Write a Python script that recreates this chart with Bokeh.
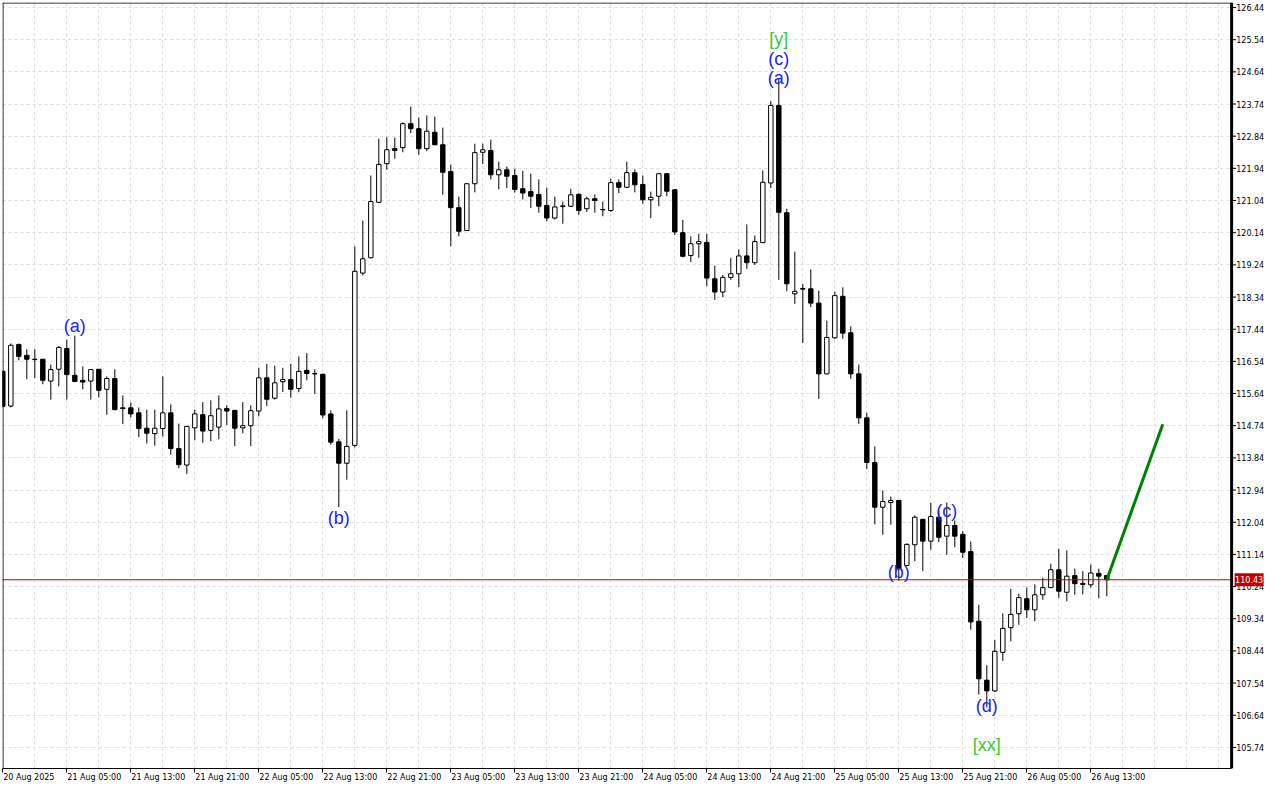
from bokeh.plotting import figure
from bokeh.models import (ColumnDataSource, Range1d, FixedTicker, LinearAxis, Grid)
from bokeh.core.properties import value
from bokeh.embed import file_html
from bokeh.resources import INLINE

# ---------------- data (hourly bars, 20 Aug 2025 21:00 -> 26 Aug 2025 15:00) ----------------
opens = [116.26, 115.29, 117.01, 116.71, 116.60, 116.60, 115.99, 116.32, 116.90, 116.15,
         116.01, 115.99, 116.32, 115.76, 116.06, 115.24, 115.24, 115.10, 114.67, 114.52,
         114.66, 115.10, 114.10, 113.64, 114.68, 115.05, 114.61, 114.70, 115.22, 115.17,
         114.68, 114.74, 115.15, 116.08, 115.51, 115.97, 116.03, 115.78, 116.29, 116.20,
         116.18, 115.07, 114.29, 113.69, 114.19, 119.01, 119.44, 120.99, 122.07, 122.49,
         122.52, 123.19, 123.05, 122.49, 122.95, 122.60, 121.85, 120.84, 120.20, 121.51,
         122.39, 122.44, 121.76, 121.90, 121.74, 121.37, 121.29, 121.21, 120.90, 120.55,
         120.87, 120.88, 121.21, 120.81, 121.09, 120.79, 120.76, 121.54, 121.41, 121.82,
         121.49, 121.06, 121.16, 121.79, 121.34, 120.14, 119.50, 119.83, 119.87, 118.85,
         118.48, 118.89, 118.99, 119.49, 119.30, 119.86, 121.53, 123.70, 120.70, 118.43,
         118.58, 118.57, 118.17, 116.19, 117.20, 118.36, 117.34, 116.19, 114.96, 113.71,
         112.46, 112.59, 112.65, 110.83, 111.41, 112.12, 111.51, 112.18, 111.65, 111.95,
         111.70, 111.22, 109.27, 107.62, 107.32, 108.40, 109.09, 109.48, 109.90, 109.59,
         110.01, 110.21, 110.71, 110.08, 110.55, 110.33, 110.29, 110.61, 110.55]
highs = [116.29, 117.04, 117.04, 116.88, 116.88, 116.60, 116.45, 116.97, 117.15, 117.26,
         116.40, 116.32, 116.32, 116.12, 116.32, 115.59, 115.39, 115.25, 115.19, 115.19,
         116.12, 115.34, 114.80, 114.74, 115.19, 115.40, 115.45, 115.59, 115.31, 115.18,
         115.40, 115.31, 116.36, 116.47, 116.42, 116.36, 116.47, 116.68, 116.77, 116.32,
         116.19, 115.17, 114.37, 115.17, 119.76, 120.48, 121.74, 122.77, 122.81, 122.80,
         123.23, 123.67, 123.36, 123.42, 123.39, 123.08, 122.05, 121.15, 121.52, 122.63,
         122.63, 122.74, 122.13, 121.99, 121.93, 121.87, 121.79, 121.63, 121.40, 121.15,
         121.01, 121.37, 121.25, 121.15, 121.21, 121.01, 121.65, 121.63, 122.13, 121.91,
         121.74, 121.29, 121.80, 121.80, 121.35, 120.50, 120.04, 120.11, 120.11, 119.22,
         118.96, 119.44, 119.67, 120.37, 120.06, 121.88, 123.82, 124.45, 120.81, 119.61,
         118.71, 119.11, 118.52, 117.68, 118.49, 118.61, 117.52, 116.45, 115.10, 114.16,
         112.93, 112.76, 112.66, 111.45, 112.23, 112.14, 112.58, 112.35, 112.59, 112.09,
         111.79, 111.50, 109.73, 108.04, 108.75, 109.49, 110.18, 110.04, 110.21, 110.30,
         110.49, 110.88, 111.30, 111.25, 110.74, 110.67, 110.86, 110.74, 110.56]
lows = [115.25, 115.25, 116.57, 116.04, 116.07, 115.90, 115.47, 115.84, 115.47, 115.96,
        115.76, 115.47, 115.53, 115.05, 115.17, 114.79, 114.97, 114.42, 114.24, 114.18,
        114.44, 113.93, 113.55, 113.39, 114.33, 114.26, 114.31, 114.36, 114.76, 114.17,
        114.53, 114.17, 115.00, 115.29, 115.47, 115.68, 115.52, 115.68, 116.01, 115.63,
        114.95, 114.21, 112.46, 113.23, 114.13, 118.94, 119.42, 120.98, 121.90, 122.21,
        122.39, 122.92, 122.32, 122.42, 122.59, 121.20, 119.76, 120.04, 120.19, 121.27,
        122.06, 121.63, 121.35, 121.39, 121.26, 121.07, 120.83, 120.70, 120.46, 120.51,
        120.39, 120.86, 120.64, 120.72, 120.70, 120.60, 120.72, 121.25, 121.40, 121.27,
        120.95, 120.55, 120.88, 121.16, 120.08, 119.45, 119.32, 119.44, 118.64, 118.26,
        118.34, 118.82, 118.62, 119.13, 119.24, 119.85, 121.39, 118.82, 118.50, 118.15,
        117.05, 118.06, 115.49, 116.17, 117.17, 117.17, 116.05, 114.79, 113.53, 111.98,
        111.69, 111.97, 110.41, 110.82, 110.95, 110.67, 111.27, 111.48, 111.13, 111.34,
        111.04, 109.03, 107.22, 106.86, 107.29, 108.16, 108.71, 109.17, 109.36, 109.27,
        109.87, 110.20, 109.92, 109.83, 110.01, 110.02, 110.21, 109.91, 109.97]
closes = [115.28, 116.99, 116.68, 116.60, 116.59, 116.01, 116.31, 116.93, 116.17, 115.98,
          115.96, 116.31, 115.73, 116.06, 115.19, 115.22, 115.07, 114.66, 114.53, 114.67,
          115.10, 114.10, 113.65, 114.72, 115.07, 114.59, 115.02, 115.21, 115.15, 114.67,
          114.74, 115.16, 116.08, 115.48, 115.94, 116.03, 115.76, 116.26, 116.20, 116.19,
          115.04, 114.28, 113.69, 114.16, 119.06, 119.41, 121.01, 122.05, 122.46, 122.44,
          123.19, 123.05, 122.49, 122.98, 122.60, 121.83, 120.84, 120.18, 121.51, 122.38,
          122.46, 121.76, 121.90, 121.72, 121.35, 121.25, 121.16, 120.88, 120.55, 120.86,
          120.89, 121.20, 120.76, 121.09, 121.04, 120.78, 121.54, 121.41, 121.82, 121.48,
          121.06, 121.13, 121.79, 121.30, 120.16, 119.48, 119.83, 119.89, 118.87, 118.48,
          118.89, 118.99, 119.49, 119.30, 119.89, 121.55, 123.70, 120.71, 118.71, 118.50,
          118.56, 118.17, 116.19, 117.21, 118.38, 117.33, 116.19, 114.96, 113.71, 112.46,
          112.62, 112.65, 110.74, 111.42, 112.18, 111.51, 112.20, 111.62, 111.95, 111.65,
          111.20, 109.25, 107.66, 107.32, 108.43, 109.07, 109.46, 109.93, 109.59, 110.01,
          110.21, 110.71, 110.11, 110.53, 110.32, 110.30, 110.62, 110.53, 110.43]

time_ticks = [0, 8, 16, 24, 32, 40, 48, 56, 64, 72, 80, 88, 96, 104, 112, 120, 128, 136]
time_labels = ["20 Aug 2025", "21 Aug 05:00", "21 Aug 13:00", "21 Aug 21:00", "22 Aug 05:00",
               "22 Aug 13:00", "22 Aug 21:00", "23 Aug 05:00", "23 Aug 13:00", "23 Aug 21:00",
               "24 Aug 05:00", "24 Aug 13:00", "24 Aug 21:00", "25 Aug 05:00", "25 Aug 13:00",
               "25 Aug 21:00", "26 Aug 05:00", "26 Aug 13:00"]
price_ticks = [105.74, 106.64, 107.54, 108.44, 109.34, 110.24, 111.14, 112.04, 112.94, 113.84,
               114.74, 115.64, 116.54, 117.44, 118.34, 119.24, 120.14, 121.04, 121.94, 122.84,
               123.74, 124.64, 125.54, 126.44]

current_price = 110.43
forecast_x = [138, 145]
forecast_y = [110.43, 114.78]

wave_text = ["(a)", "(b)", "[y]", "(c)", "(a)", "(b)", "(c)", "(d)", "[xx]"]
wave_x = [9, 42, 97, 97, 97, 112, 118, 123, 123]
wave_y = [117.52, 112.17, 125.57, 125.01, 124.48, 110.66, 112.34, 106.89, 105.80]
wave_color = ["#2222ff", "#2222ff", "#3cc83c", "#2222ff", "#2222ff", "#2222ff", "#2222ff",
              "#2222ff", "#3cc83c"]

# ---------------- layout constants ----------------
X0, X1 = -0.04, 157.71        # visible bar-index range (8 px per bar)
Y0, Y1 = 105.15, 126.58       # visible price range
AXIS_X = 153.6                # price scale position (bar-index units)
PX = 1 / 8.0                  # one pixel in bar-index units
PY = (Y1 - Y0) / 766.0        # one pixel in price units

# ---------------- build ----------------
n = len(closes)
idx = list(range(n))
up = [c >= o for o, c in zip(opens, closes)]

src_all = ColumnDataSource(dict(x=idx, h=highs, l=lows))
src_up = ColumnDataSource(dict(
    x=[i for i in idx if up[i]],
    top=[closes[i] for i in idx if up[i]],
    bottom=[opens[i] for i in idx if up[i]]))
src_dn = ColumnDataSource(dict(
    x=[i for i in idx if not up[i]],
    top=[opens[i] for i in idx if not up[i]],
    bottom=[closes[i] for i in idx if not up[i]]))

p = figure(width=1264, height=784, output_backend="svg", toolbar_location=None,
           x_range=Range1d(X0, X1), y_range=Range1d(Y0, Y1),
           x_axis_location="below", y_axis_location=None,
           min_border_left=2, min_border_top=2, min_border_right=0, min_border_bottom=16)
p.background_fill_color = "white"
p.border_fill_color = "white"
p.outline_line_color = None

# grid
p.xgrid.ticker = FixedTicker(ticks=list(range(0, 156, 4)))
if len(p.ygrid) == 0:
    p.add_layout(Grid(dimension=1, ticker=FixedTicker(ticks=price_ticks)))
p.ygrid.ticker = FixedTicker(ticks=price_ticks)
for g in list(p.xgrid) + list(p.ygrid):
    g.grid_line_color = "#dcdcdc"
    g.grid_line_dash = "3 3"
    g.grid_line_width = 1

# x axis: tick marks
xa = p.xaxis[0]
xa.ticker = FixedTicker(ticks=time_ticks)
xa.bounds = (X0, AXIS_X)
xa.major_label_overrides = {t: "" for t in time_ticks}
xa.major_label_text_font_size = "0px"
xa.major_label_standoff = 0
xa.major_tick_out = 4
xa.major_tick_in = 0
xa.minor_tick_out = 0
xa.minor_tick_in = 0
xa.axis_line_color = "black"
xa.major_tick_line_color = "black"

# x axis: labels, left-aligned just right of each tick
label_pos = [t + (3.25 if ":" not in lab else 3.4375) for t, lab in zip(time_ticks, time_labels)]
xb = LinearAxis(ticker=FixedTicker(ticks=label_pos),
                major_label_overrides={pp: lab for pp, lab in zip(label_pos, time_labels)},
                major_tick_out=0, major_tick_in=0, minor_tick_out=0, minor_tick_in=0,
                axis_line_color=None, major_label_standoff=0,
                major_label_text_font="DejaVu Sans", major_label_text_font_size="8px",
                major_label_text_color="black")
p.add_layout(xb, "below")

# candles
p.segment(x0="x", y0="h", x1="x", y1="l", source=src_all, line_color="black", line_width=1)
p.vbar(x="x", top="top", bottom="bottom", width=0.55, source=src_up,
       fill_color="white", line_color="black", line_width=1)
p.vbar(x="x", top="top", bottom="bottom", width=0.55, source=src_dn,
       fill_color="black", line_color="black", line_width=1)

# current price line
p.segment(x0=[X0], y0=[current_price], x1=[AXIS_X], y1=[current_price],
          line_color="#c00000", line_width=1)

# forecast line
p.line(forecast_x, forecast_y, line_color="#008000", line_width=3)

# wave labels
wsrc = ColumnDataSource(dict(x=wave_x, y=wave_y, t=wave_text, c=wave_color))
p.text(x="x", y="y", text="t", text_color="c", source=wsrc,
       text_font=value("Liberation Sans"), text_font_size="18px",
       text_align="center", text_baseline="middle")

# price scale (right)
p.quad(left=[AXIS_X], right=[X1], bottom=[Y0], top=[Y1], fill_color="white", line_color=None)
p.segment(x0=[AXIS_X], y0=[Y0], x1=[AXIS_X], y1=[Y1], line_color="black", line_width=3)
p.segment(x0=[AXIS_X] * len(price_ticks), y0=price_ticks,
          x1=[AXIS_X + 4.5 * PX] * len(price_ticks), y1=price_ticks,
          line_color="black", line_width=1)
p.text(x=[AXIS_X + 4.6 * PX] * len(price_ticks), y=price_ticks,
       text=["%.2f" % t for t in price_ticks], text_color="black",
       text_font=value("DejaVu Sans"), text_font_size="8px",
       text_align="left", text_baseline="middle")

# current price tag
tag_cx = AXIS_X + 17.5 * PX
p.rect(x=[tag_cx], y=[current_price], width=29 * PX, height=13 * PY,
       fill_color="#c00000", line_color=None)
p.text(x=[tag_cx], y=[current_price], text=["%.2f" % current_price], text_color="white",
       text_font=value("DejaVu Sans"), text_font_size="8px",
       text_align="center", text_baseline="middle")

# frame borders (left, top)
p.segment(x0=[X0 + 0.5 * PX], y0=[Y0], x1=[X0 + 0.5 * PX], y1=[Y1], line_color="black", line_width=1)
p.segment(x0=[X0], y0=[Y1 - 0.5 * PY], x1=[AXIS_X], y1=[Y1 - 0.5 * PY], line_color="black", line_width=1)

open("out.html", "w").write(file_html(p, INLINE))
